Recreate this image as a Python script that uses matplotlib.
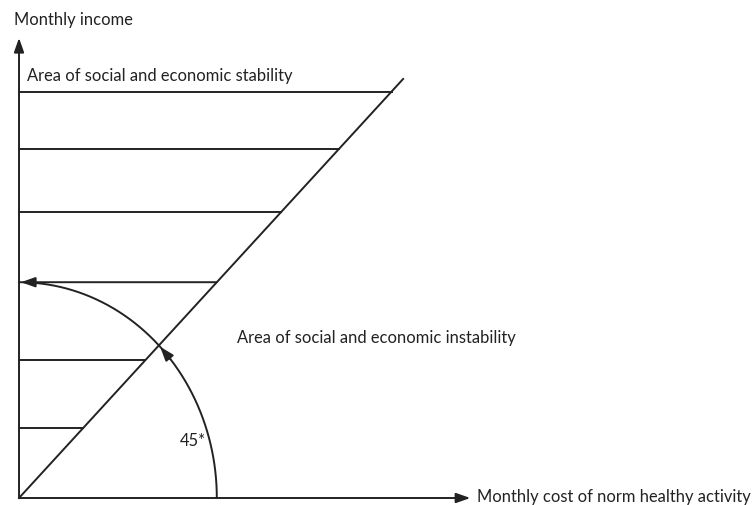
import numpy as np
import matplotlib.pyplot as plt

# income levels of the horizontal hatch lines (diagonal is income = cost)
levels = [9.7, 8.33, 6.83, 3.29, 1.67]
arc_level = 5.15          # radius of the 45* arc, also the arrowed line
x_axis_end = 11.75
y_axis_end = 10.98
diag_end = 10.0

label_x = "Monthly cost of norm healthy activity"
label_y = "Monthly income"
label_stable = "Area of social and economic stability"
label_unstable = "Area of social and economic instability"
label_angle = "45*"

plt.rcParams['font.family'] = ['Lato', 'DejaVu Sans']
fig = plt.figure(figsize=(7.53, 5.05), dpi=100)
ax = fig.add_axes([0, 0, 1, 1])
ax.set_xlim(-0.495, 19.11)
ax.set_ylim(-0.167, 11.885)
ax.axis('off')

ink = '#222222'
lw = 1.4
head = dict(arrowstyle='-|>,head_length=0.85,head_width=0.3', color=ink, lw=lw,
            shrinkA=0, shrinkB=0)

# axes with arrows
ax.annotate('', xy=(0, y_axis_end), xytext=(0, 0), arrowprops=head)
ax.annotate('', xy=(x_axis_end, 0), xytext=(0, 0), arrowprops=head)

# diagonal
ax.plot([0, diag_end], [0, diag_end], color=ink, lw=lw)

# horizontal lines up to the diagonal
for lv in levels:
    ax.plot([0, lv], [lv, lv], color=ink, lw=lw)
ax.annotate('', xy=(0.05, arc_level), xytext=(arc_level, arc_level), arrowprops=head)

# arc
t = np.linspace(0, np.pi / 2, 200)
ax.plot(arc_level * np.cos(t), arc_level * np.sin(t), color=ink, lw=lw)
a0, a1 = np.radians(40), np.radians(44.5)
ax.annotate('', xy=(arc_level * np.cos(a1), arc_level * np.sin(a1)),
            xytext=(arc_level * np.cos(a0), arc_level * np.sin(a0)), arrowprops=head)

fs = 11.9
ax.text(-0.13, 11.41, label_y, fontsize=fs, color=ink, va='center', ha='left')
ax.text(0.2, 10.07, label_stable, fontsize=fs, color=ink, va='center', ha='left')
ax.text(5.68, 3.82, label_unstable, fontsize=fs, color=ink, va='center', ha='left')
ax.text(4.19, 1.36, label_angle, fontsize=fs, color=ink, va='center', ha='left')
ax.text(11.93, 0.02, label_x, fontsize=fs, color=ink, va='center', ha='left')

fig.savefig('out.png', dpi=100)
